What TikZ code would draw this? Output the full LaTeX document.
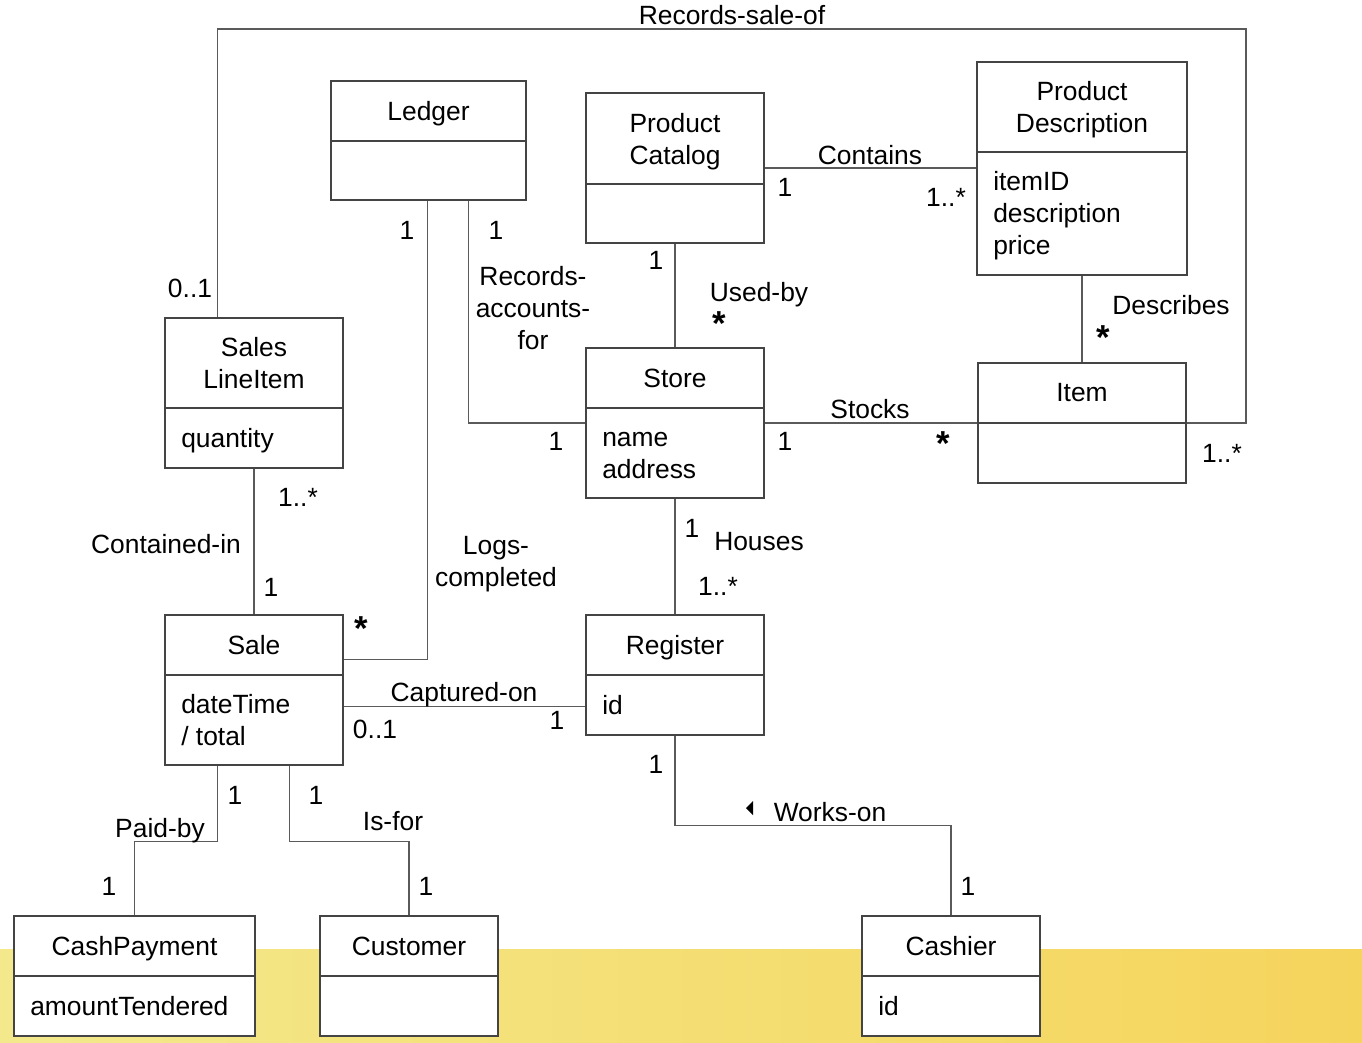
\documentclass[tikz,border=0pt]{standalone}
\usepackage{fontspec}
\setmainfont{Liberation Sans}
\usetikzlibrary{fit,calc}
\definecolor{lnc}{HTML}{5A5A5A}
\definecolor{bxc}{HTML}{444444}
\definecolor{yl}{HTML}{F3E98C}
\definecolor{yr}{HTML}{F5D45C}
\newcommand\zd[1]{\raisebox{0pt}[\height][0pt]{#1}}
\tikzset{
  box/.style={draw=bxc, fill=white, line width=0.8pt, inner sep=0pt},
  txt/.style={font=\fontsize{19.8}{24}\selectfont, inner sep=0pt, align=center},
  attr/.style={font=\fontsize{19.8}{24}\selectfont, inner sep=0pt, align=left, anchor=west},
  conn/.style={draw=lnc, line width=0.8pt},
  lbl/.style={font=\fontsize{19.8}{24}\selectfont, inner sep=0pt, align=center},
  star/.style={font=\fontsize{26}{26}\selectfont\bfseries, inner sep=0pt},
}
\newcommand\umlclass[9]{%
  \node[box, fit={(#2,#3)(#4,#5)}] (#1) {};
  \draw[draw=bxc, line width=0.8pt] (#2,#6) -- (#4,#6);
  \node[txt] (#1-t) at ({(#2+#4)/2},{(#3+#6)/2}) {#7};
  \node[attr] (#1-a) at (#2+16,#9) {#8};
}
\begin{document}
\begin{tikzpicture}[x=0.75pt,y=-0.75pt]
\useasboundingbox (0,0) rectangle (1362,1042);
\shade[left color=yl, right color=yr] (0,949) rectangle (1362,1042);

% classes
\umlclass{ledger}{331}{81}{526}{200}{141}{\zd{Ledger}}{}{170}
\umlclass{catalog}{586}{93}{764}{243}{184}{Product\\\zd{Catalog}}{}{213}
\umlclass{desc}{977}{62}{1187}{275}{152}{Product\\\zd{Description}}{\fontsize{19.8}{22.5}\selectfont itemID\\description\\\zd{price}}{213}
\umlclass{sli}{165}{318}{343}{468}{408}{Sales\\LineItem}{\zd{quantity}}{438}
\umlclass{store}{586}{348}{764}{498}{408}{Store}{name\\address}{456}
\umlclass{item}{978}{363}{1186}{483}{423}{Item}{}{453}
\umlclass{sale}{165}{615}{343}{765}{675}{Sale}{dateTime\\/ total}{720}
\umlclass{register}{586}{615}{764}{735}{675}{\zd{Register}}{id}{705}
\umlclass{cash}{14}{916}{255}{1036}{976}{\zd{CashPayment}}{amountTendered}{1006}
\umlclass{customer}{320}{916}{498}{1036}{976}{Customer}{}{1006}
\umlclass{cashier}{862}{916}{1040}{1036}{976}{Cashier}{id}{1006}

% connectors
\coordinate (rsoc) at (1246,29);
\draw[conn] ($(sli.north west)+(53,0)$) |- (rsoc) |- (item.east);
\draw[conn] ($(ledger.south west)+(97,0)$) |- ($(sale.north east)+(0,45)$);
\draw[conn] ($(ledger.south west)+(138,0)$) |- (store.west);
\draw[conn] (catalog.east) -- (catalog.east -| desc.west);
\draw[conn] (catalog.south) -- (store.north);
\draw[conn] (desc.south) -- (item.north);
\draw[conn] (store.east) -- (item.west);
\draw[conn] (sli.south) -- (sale.north);
\draw[conn] (store.south) -- (register.north);
\draw[conn] ($(sale.south east)+(0,-59)$) -- ($(register.south west)+(0,-29)$);
\draw[conn] ($(sale.south west)+(53,0)$) -- ++(0,76) -| (cash.north);
\draw[conn] ($(sale.south west)+(125,0)$) -- ++(0,76) -| (customer.north);
\draw[conn] (register.south) -- ++(0,90) -| (cashier.north);

% labels
\node[lbl] (l01) at (732,15) {Records-sale-of};
\node[lbl] (l02) at (190,288) {0..1};
\node[lbl] (l03) at (1222,453) {1..*};
\node[lbl] (l04) at (407,230) {1};
\node[lbl] (l05) at (496,230) {1};
\node[lbl] (l06) at (533,308) {Records-\\accounts-\\for};
\node[lbl] (l07) at (870,155) {Contains};
\node[lbl] (l08) at (785,187) {1};
\node[lbl] (l09) at (946,197) {1..*};
\node[lbl] (l10) at (656,260) {1};
\node[lbl] (l11) at (759,292) {\zd{Used-by}};
\node[star] (l12) at (719,324) {*};
\node[lbl] (l13) at (1171,305) {Describes};
\node[star] (l14) at (1103,338) {*};
\node[lbl] (l15) at (870,409) {Stocks};
\node[lbl] (l16) at (785,441) {1};
\node[star] (l17) at (943,444) {*};
\node[lbl] (l18) at (556,441) {1};
\node[lbl] (l19) at (298,497) {1..*};
\node[lbl] (l20) at (166,544) {Contained-in};
\node[lbl] (l21) at (271,587) {1};
\node[lbl] (l22) at (496,561) {Logs-\\\zd{completed}};
\node[lbl] (l23) at (692,528) {1};
\node[lbl] (l24) at (759,542) {Houses};
\node[lbl] (l25) at (718,586) {1..*};
\node[star] (l26) at (361,629) {*};
\node[lbl] (l27) at (464,692) {\zd{Captured-on}};
\node[lbl] (l28) at (375,729) {0..1};
\node[lbl] (l29) at (557,720) {1};
\node[lbl] (l30) at (656,764) {1};
\node[lbl] (l31) at (830,812) {Works-on};
\fill (746,808) -- (753,801) -- (753,815) -- cycle;
\node[lbl] (l32) at (235,795) {1};
\node[lbl] (l33) at (316,795) {1};
\node[lbl] (l34) at (160,828) {\zd{Paid-by}};
\node[lbl] (l35) at (393,821) {Is-for};
\node[lbl] (l36) at (109,886) {1};
\node[lbl] (l37) at (426,886) {1};
\node[lbl] (l38) at (968,886) {1};
\end{tikzpicture}
\end{document}
